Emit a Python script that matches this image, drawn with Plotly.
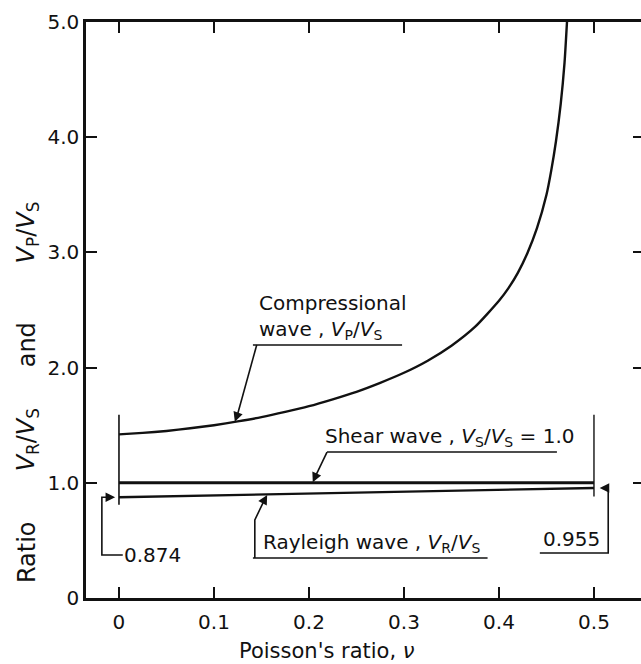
import plotly.graph_objects as go

# Compressional wave ratio Vp/Vs versus Poisson's ratio
nu_p = [0.0, 0.025, 0.05, 0.075, 0.10, 0.125, 0.15, 0.175, 0.20, 0.225, 0.25,
        0.275, 0.30, 0.325, 0.35, 0.375, 0.40, 0.41, 0.42, 0.43, 0.44, 0.45,
        0.455, 0.46, 0.465, 0.469, 0.4716]
vp_vs = [1.42, 1.433, 1.45, 1.473, 1.50, 1.533, 1.57, 1.615, 1.665, 1.725, 1.79,
         1.868, 1.955, 2.06, 2.19, 2.355, 2.58, 2.69, 2.825, 2.995, 3.21, 3.50,
         3.71, 3.965, 4.29, 4.645, 5.0]

# Shear wave reference line
nu_s = [0.0, 0.5]
vs_vs = [1.0, 1.0]

# Rayleigh wave ratio VR/Vs
nu_r = [0.0, 0.5]
vr_vs = [0.874, 0.955]

x_ticks = [0, 0.1, 0.2, 0.3, 0.4, 0.5]
x_tick_text = ["0", "0.1", "0.2", "0.3", "0.4", "0.5"]
y_ticks = [0, 1, 2, 3, 4, 5]
y_tick_text = ["0", "1.0", "2.0", "3.0", "4.0", "5.0"]

FONT = "DejaVu Sans"
INK = "#111111"

fig = go.Figure()
fig.add_trace(go.Scatter(x=nu_p, y=vp_vs, mode="lines",
                         line=dict(color=INK, width=2.4, shape="spline", smoothing=0.6),
                         showlegend=False, hoverinfo="skip"))
fig.add_trace(go.Scatter(x=nu_s, y=vs_vs, mode="lines", line=dict(color=INK, width=3),
                         showlegend=False, hoverinfo="skip"))
fig.add_trace(go.Scatter(x=nu_r, y=vr_vs, mode="lines", line=dict(color=INK, width=2.4),
                         showlegend=False, hoverinfo="skip"))
# empty trace that carries the right-hand tick axis
fig.add_trace(go.Scatter(x=[None], y=[None], yaxis="y2", showlegend=False, hoverinfo="skip"))

shapes = []
def seg(pts, w=1.6):
    d = "M " + " L ".join(f"{x},{y}" for x, y in pts)
    shapes.append(dict(type="path", path=d, xref="x", yref="y",
                       line=dict(color=INK, width=w)))

# end bars at nu = 0 and nu = 0.5
seg([(0.0, 0.81), (0.0, 1.59)], 1.6)
seg([(0.5, 0.88), (0.5, 1.59)], 1.4)

# leaders
seg([(0.141, 2.196), (0.298, 2.196)])
seg([(0.145, 2.196), (0.125, 1.60)])
seg([(0.219, 1.267), (0.461, 1.267)])
seg([(0.219, 1.267), (0.207, 1.06)])
seg([(0.141, 0.347), (0.388, 0.347)])
seg([(0.143, 0.347), (0.143, 0.677), (0.153, 0.85)])
seg([(0.004, 0.373), (-0.018, 0.373), (-0.018, 0.874), (-0.012, 0.874)])
seg([(0.443, 0.39), (0.515, 0.39), (0.515, 0.955), (0.512, 0.955)])

arrows = [
    ((0.125, 1.60), (0.122, 1.53)),
    ((0.207, 1.06), (0.204, 1.005)),
    ((0.153, 0.85), (0.156, 0.895)),
    ((-0.012, 0.874), (-0.004, 0.874)),
    ((0.512, 0.955), (0.506, 0.955)),
]
annotations = []
for (ax_, ay_), (x_, y_) in arrows:
    annotations.append(dict(x=x_, y=y_, ax=ax_, ay=ay_, xref="x", yref="y", axref="x", ayref="y",
                            text="", showarrow=True, arrowhead=2, arrowsize=1.2, arrowwidth=1.6,
                            arrowcolor=INK, standoff=0, startstandoff=0))

def label(text, x, y, xa="left", ya="bottom", ref="x", size=20, **kw):
    yref = "y" if ref == "x" else "paper"
    annotations.append(dict(text=text, x=x, y=y, xref=ref, yref=yref, xanchor=xa, yanchor=ya,
                            showarrow=False, font=dict(family=FONT, size=size, color=INK),
                            align="left", borderpad=0, **kw))

VP = "<i>V</i><sub>P</sub>/<i>V</i><sub>S</sub>"
VR = "<i>V</i><sub>R</sub>/<i>V</i><sub>S</sub>"
VS = "<i>V</i><sub>S</sub>/<i>V</i><sub>S</sub>"
label("Compressional<br>wave , " + VP, 0.146, 2.205)
label("Shear wave , " + VS + " = 1.0", 0.216, 1.275)
label("Rayleigh wave , " + VR, 0.151, 0.355)
label("0.874", 0.004, 0.373, ya="middle")
label("0.955", 0.445, 0.40)

# axis titles (outside the plotting area, so placed in paper units)
label("Ratio", -0.106, 0.080, xa="center", ya="middle", ref="paper", size=24, textangle=-90)
label(VR, -0.106, 0.274, xa="center", ya="middle", ref="paper", size=24, textangle=-90)
label("and", -0.106, 0.439, xa="center", ya="middle", ref="paper", size=24, textangle=-90)
label(VP, -0.106, 0.635, xa="center", ya="middle", ref="paper", size=24, textangle=-90)
label("Poisson's ratio, <i>ν</i>", 0.434, -0.092, xa="center", ya="middle", ref="paper", size=21)

axis_common = dict(showgrid=False, zeroline=False, ticks="inside", ticklen=11, tickwidth=2,
                   tickcolor=INK, linecolor=INK, linewidth=2.5,
                   tickfont=dict(family=FONT, size=20, color=INK))

fig.update_layout(
    width=641, height=664,
    margin=dict(l=86, r=0, t=22, b=66),
    paper_bgcolor="white", plot_bgcolor="white",
    xaxis=dict(range=[-0.0347, 0.5495], tickvals=x_ticks, ticktext=x_tick_text,
               showline=True, mirror="ticks", ticklabelstandoff=4, **axis_common),
    yaxis=dict(range=[0, 5], tickvals=y_ticks, ticktext=y_tick_text,
               showline=True, mirror=False, **axis_common),
    yaxis2=dict(range=[0, 5], tickvals=y_ticks, overlaying="y", side="right",
                showline=False, showticklabels=False, showgrid=False, zeroline=False,
                ticks="inside", ticklen=8, tickwidth=2, tickcolor=INK),
    shapes=shapes,
    annotations=annotations,
)

fig.write_html("out.html")
